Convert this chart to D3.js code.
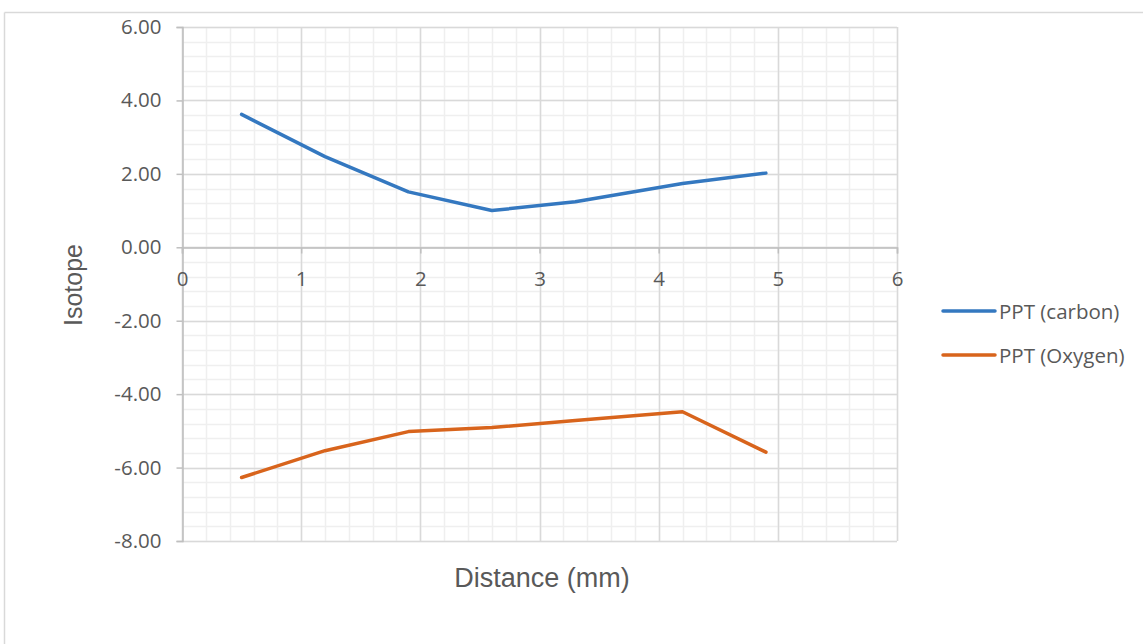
<!DOCTYPE html>
<html>
<head>
<meta charset="utf-8">
<script src="https://cdn.jsdelivr.net/npm/d3@7"></script>
<style>
  body { margin: 0; background: #fff; }
  svg { display: block; }
  text { font-family: "Open Sans", "Liberation Sans", sans-serif; fill: #595959; }
</style>
</head>
<body>
<svg id="chart" width="1143" height="644"></svg>
<script>
// ---- data ----
const distance = [0.5, 1.2, 1.9, 2.6, 3.3, 4.2, 4.9];
const carbon   = [3.62, 2.47, 1.51, 1.00, 1.24, 1.74, 2.02];
const oxygen   = [-6.27, -5.54, -5.02, -4.91, -4.72, -4.48, -5.58];
const seriesNames = ["PPT (carbon)", "PPT (Oxygen)"];
const seriesColors = ["#3478c0", "#d8641c"];
const xTicks = [0, 1, 2, 3, 4, 5, 6];
const yTicks = [-8, -6, -4, -2, 0, 2, 4, 6];

(function () {
const svg = d3.select("#chart");

// chart border (cropped on right/bottom)
svg.append("line").attr("x1", 4.5).attr("x2", 1143).attr("y1", 12.5).attr("y2", 12.5)
  .attr("stroke", "#d9d9d9").attr("stroke-width", 1.5);
svg.append("line").attr("x1", 4.5).attr("x2", 4.5).attr("y1", 12.5).attr("y2", 644)
  .attr("stroke", "#d9d9d9").attr("stroke-width", 1.5);

const pLeft = 182, pRight = 897, pTop = 27, pBottom = 541;
const x = d3.scaleLinear().domain([0, 6]).range([pLeft, pRight]);
const y = d3.scaleLinear().domain([-8, 6]).range([pBottom, pTop]);

const g = svg.append("g");

// minor gridlines
const xMinor = d3.range(0, 6.0001, 0.2);
const yMinor = d3.range(-8, 6.0001, 0.4);
g.selectAll("line.xminor").data(xMinor).enter().append("line")
  .attr("x1", d => Math.round(x(d)) + 0.5).attr("x2", d => Math.round(x(d)) + 0.5)
  .attr("y1", pTop).attr("y2", pBottom)
  .attr("stroke", "#efefef").attr("stroke-width", 1.5);
g.selectAll("line.yminor").data(yMinor).enter().append("line")
  .attr("y1", d => Math.round(y(d)) + 0.5).attr("y2", d => Math.round(y(d)) + 0.5)
  .attr("x1", pLeft).attr("x2", pRight)
  .attr("stroke", "#efefef").attr("stroke-width", 1.5);

// major gridlines
g.selectAll("line.xmajor").data(xTicks).enter().append("line")
  .attr("x1", d => Math.round(x(d)) + 0.5).attr("x2", d => Math.round(x(d)) + 0.5)
  .attr("y1", pTop).attr("y2", pBottom)
  .attr("stroke", "#d9d9d9").attr("stroke-width", 1.5);
g.selectAll("line.ymajor").data(yTicks).enter().append("line")
  .attr("y1", d => Math.round(y(d)) + 0.5).attr("y2", d => Math.round(y(d)) + 0.5)
  .attr("x1", pLeft).attr("x2", pRight)
  .attr("stroke", "#d9d9d9").attr("stroke-width", 1.5);

// y axis
const yAxis = d3.axisLeft(y).tickValues(yTicks).tickSize(6).tickPadding(15)
  .tickFormat(d => d.toFixed(2));
const yg = svg.append("g").attr("transform", `translate(${pLeft + 0.5},0)`).call(yAxis);
yg.select(".domain").attr("stroke", "#bfbfbf").attr("stroke-width", 1.5);
yg.selectAll(".tick line").attr("stroke", "#bfbfbf").attr("stroke-width", 1.5);
yg.selectAll(".tick text").style("font-size", "20.5px").attr("fill", "#595959")
  .attr("font-family", "'Open Sans', 'Liberation Sans', sans-serif");

// x axis at y=0
const xAxis = d3.axisBottom(x).tickValues(xTicks).tickSize(6).tickPadding(18)
  .tickFormat(d => String(d));
const xg = svg.append("g").attr("transform", `translate(0,${Math.round(y(0)) + 0.5})`).call(xAxis);
xg.select(".domain").attr("stroke", "#bfbfbf").attr("stroke-width", 1.5);
xg.selectAll(".tick line").attr("stroke", "#bfbfbf").attr("stroke-width", 1.5);
xg.selectAll(".tick text").style("font-size", "20.5px").attr("fill", "#595959")
  .attr("font-family", "'Open Sans', 'Liberation Sans', sans-serif");

// series
const line = d3.line().x(d => x(d[0])).y(d => y(d[1]));
[carbon, oxygen].forEach((vals, i) => {
  svg.append("path")
    .datum(distance.map((d, j) => [d, vals[j]]))
    .attr("d", line)
    .attr("fill", "none")
    .attr("stroke", seriesColors[i])
    .attr("stroke-width", 3.5)
    .attr("stroke-linejoin", "round")
    .attr("stroke-linecap", "round");
});

// axis titles
svg.append("text").attr("x", 542).attr("y", 587)
  .attr("text-anchor", "middle").style("font-family", "'Liberation Sans', Arial, sans-serif")
  .style("font-size", "27px").text("Distance (mm)");
svg.append("text").attr("transform", `translate(82,285) rotate(-90)`)
  .attr("text-anchor", "middle").style("font-family", "'Liberation Sans', Arial, sans-serif")
  .style("font-size", "25px").text("Isotope");

// legend
seriesNames.forEach((name, i) => {
  const ly = 311 + i * 44;
  svg.append("line").attr("x1", 943).attr("x2", 995).attr("y1", ly).attr("y2", ly)
    .attr("stroke", seriesColors[i]).attr("stroke-width", 3.5).attr("stroke-linecap", "round");
  svg.append("text").attr("x", 999).attr("y", ly + 7.5).style("font-size", "20.5px").text(name);
});
})();
</script>
</body>
</html>
